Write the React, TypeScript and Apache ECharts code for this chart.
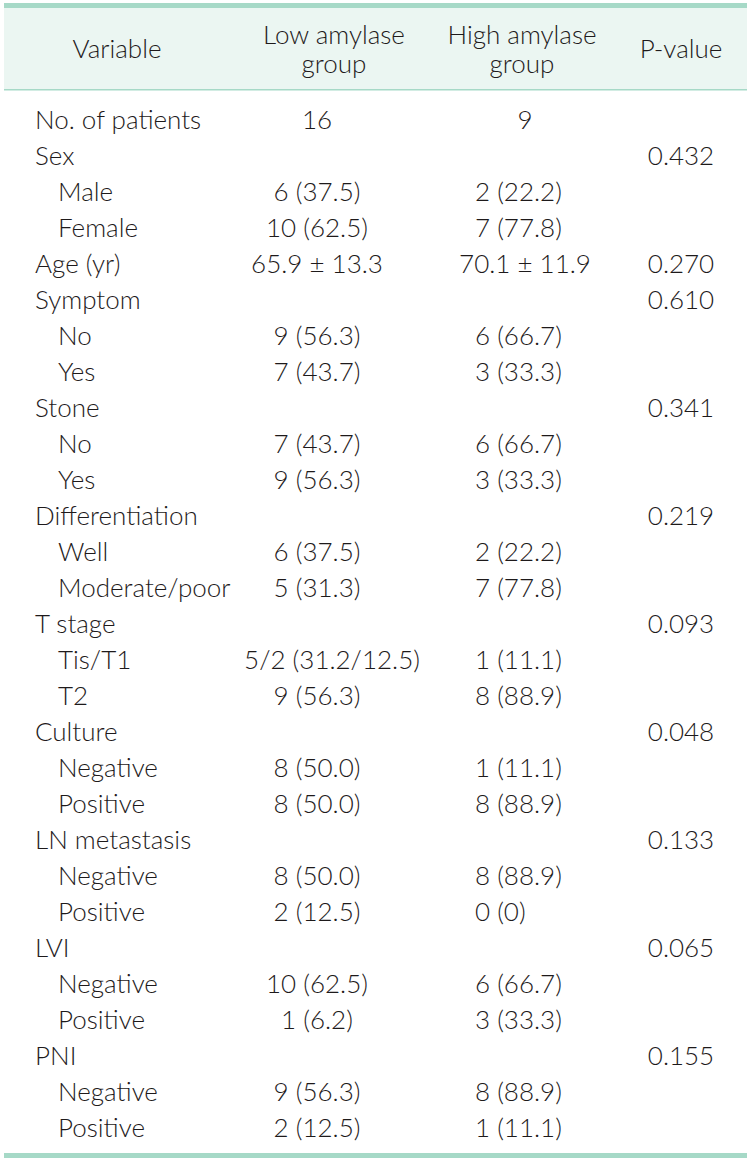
import React, { useEffect, useRef } from "react";
import * as echarts from "echarts";

const headers = ["Variable", "Low amylase\ngroup", "High amylase\ngroup", "P-value"];
const variables = [
  "No. of patients", "Sex", "Male", "Female", "Age (yr)", "Symptom", "No", "Yes",
  "Stone", "No", "Yes", "Differentiation", "Well", "Moderate/poor", "T stage", "Tis/T1", "T2",
  "Culture", "Negative", "Positive", "LN metastasis", "Negative", "Positive",
  "LVI", "Negative", "Positive", "PNI", "Negative", "Positive",
];
const indent = [
  0, 0, 1, 1, 0, 0, 1, 1, 0, 1, 1, 0, 1, 1, 0, 1, 1, 0, 1, 1, 0, 1, 1, 0, 1, 1, 0, 1, 1,
];
const lowGroup = [
  "16", "", "6 (37.5)", "10 (62.5)", "65.9 ± 13.3", "", "9 (56.3)", "7 (43.7)",
  "", "7 (43.7)", "9 (56.3)", "", "6 (37.5)", "5 (31.3)", "", "5/2 (31.2/12.5)", "9 (56.3)",
  "", "8 (50.0)", "8 (50.0)", "", "8 (50.0)", "2 (12.5)", "", "10 (62.5)", "1 (6.2)",
  "", "9 (56.3)", "2 (12.5)",
];
const highGroup = [
  "9", "", "2 (22.2)", "7 (77.8)", "70.1 ± 11.9", "", "6 (66.7)", "3 (33.3)",
  "", "6 (66.7)", "3 (33.3)", "", "2 (22.2)", "7 (77.8)", "", "1 (11.1)", "8 (88.9)",
  "", "1 (11.1)", "8 (88.9)", "", "8 (88.9)", "0 (0)", "", "6 (66.7)", "3 (33.3)",
  "", "8 (88.9)", "1 (11.1)",
];
const pValues = [
  "", "0.432", "", "", "0.270", "0.610", "", "", "0.341", "", "", "0.219", "", "",
  "0.093", "", "", "0.048", "", "", "0.133", "", "", "0.065", "", "", "0.155", "", "",
];

const W = 751;
const H = 1161;
const FONT = "Lato, 'Noto Sans', sans-serif";
const COLOR = "#1e1a1b";
const TEAL = "#a6d9c7";

export default function App() {
  const ref = useRef<HTMLDivElement>(null);
  useEffect(() => {
    document.body.style.margin = "0";
    const chart = echarts.init(ref.current!, null, { renderer: "svg" });
    const elements: any[] = [];
    elements.push({ type: "rect", shape: { x: 4, y: 8, width: 743, height: 82 }, style: { fill: "#ebf6f2" } });
    elements.push({ type: "rect", shape: { x: 4, y: 3, width: 743, height: 5 }, style: { fill: TEAL } });
    elements.push({ type: "rect", shape: { x: 4, y: 89, width: 743, height: 1.5 }, style: { fill: TEAL } });
    elements.push({ type: "rect", shape: { x: 4, y: 1153, width: 743, height: 5 }, style: { fill: TEAL } });

    const baseFont = `300 26px ${FONT}`;
    const colX = [117, 334, 522, 681];
    headers.forEach((h, i) => {
      elements.push({
        type: "text",
        x: colX[i],
        y: 48,
        style: {
          text: h, fill: COLOR, font: baseFont, align: "center", verticalAlign: "middle", lineHeight: 29,
        },
      });
    });

    variables.forEach((v, i) => {
      const y = 119 + i * 36;
      elements.push({
        type: "text", x: indent[i] ? 58 : 35, y,
        style: { text: v, fill: COLOR, font: baseFont, align: "left", verticalAlign: "middle" },
      });
      if (lowGroup[i]) {
        elements.push({
          type: "text", x: lowGroup[i].length > 12 ? 332 : 317, y,
          style: { text: lowGroup[i], fill: COLOR, font: baseFont, align: "center", verticalAlign: "middle" },
        });
      }
      if (highGroup[i]) {
        const center = highGroup[i].length < 3 || highGroup[i].includes("±");
        elements.push({
          type: "text", x: center ? 525 : 475, y,
          style: { text: highGroup[i], fill: COLOR, font: baseFont, align: center ? "center" : "left", verticalAlign: "middle" },
        });
      }
      if (pValues[i]) {
        elements.push({
          type: "text", x: 681, y,
          style: { text: pValues[i], fill: COLOR, font: baseFont, align: "center", verticalAlign: "middle" },
        });
      }
    });

    chart.setOption({ animation: false, graphic: { elements } });
    return () => chart.dispose();
  }, []);
  return <div ref={ref} style={{ width: W, height: H, background: "#fff" }} />;
}
